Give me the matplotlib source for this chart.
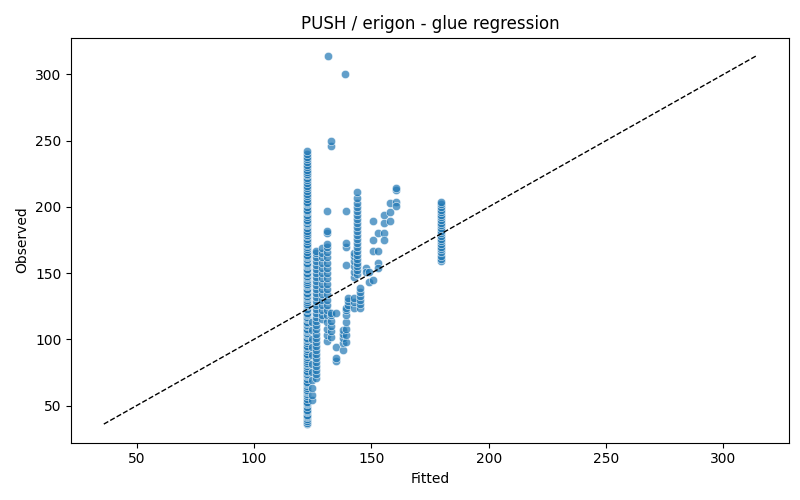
import matplotlib
matplotlib.use("Agg")
import matplotlib.pyplot as plt
import numpy as np

# columns of (fitted value, observed values)
fit_a = 122.6
obs_a = [36, 37, 38, 40, 41, 42, 43, 45, 46, 47, 49, 51, 52, 53, 55, 57, 59, 60, 61,
         62, 63, 65, 66, 67, 68, 70, 72, 73, 74, 75, 76, 78, 80, 81, 82, 84, 85, 87,
         88, 89, 91, 93, 94, 95, 97, 99, 100, 101, 103, 104, 105, 106, 107, 108, 110,
         111, 112, 113, 115, 116, 117, 118, 119, 120, 122, 123, 125, 126, 127, 128,
         130, 131, 132, 133, 134, 135, 137, 138, 140, 141, 142, 143, 145, 146, 147,
         148, 149, 150, 152, 153, 155, 156, 157, 158, 160, 161, 162, 163, 164, 166,
         168, 170, 171, 172, 174, 176, 178, 179, 180, 182, 184, 186, 187, 188, 189,
         190, 192, 194, 196, 197, 198, 200, 202, 203, 204, 206, 208, 210, 212, 214,
         216, 218, 220, 222, 224, 225, 226, 228, 230, 232, 234, 236, 238, 240, 242]

fit_b = 124.8
obs_b = [54, 58, 63, 69, 75, 81, 88, 94, 100, 107, 113]

fit_c = 126.4
obs_c = [71, 74, 77, 80, 83, 86, 89, 92, 95, 98, 101, 104, 108, 111, 114, 117, 120,
         123, 126, 129, 132, 135, 138, 141, 144, 147, 150, 153, 156, 159, 162, 165, 167]

fit_d = 128.8
obs_d = [115, 118, 122, 126, 130, 134, 138, 142, 146, 150, 154, 158, 162, 165, 169]

fit_e = 131.2
obs_e = [99, 103, 108, 113, 118, 122, 126, 130, 134, 138, 142, 146, 150, 154, 158,
         162, 166, 170, 172, 180, 182, 197]

fit_f = 132.8
obs_f = [102, 106, 110, 114, 118, 120, 246, 250]

fit_g = 135.0
obs_g = [84, 86, 94, 120]

fit_h = 137.8
obs_h = [92, 97, 101, 104, 107]

fit_i = 139.0
obs_i = [98, 103, 108, 113, 118, 122, 124, 156, 170, 173, 197]

fit_j = 140.2
obs_j = [126, 129, 131]

fit_k = 142.8
obs_k = [124, 128, 131, 147, 151, 155, 159, 163, 165]

fit_l = 143.7
obs_l = [149, 152, 155, 158, 161, 164, 167, 170, 173, 176, 179, 182, 185, 188, 191,
         194, 197, 200, 203, 207, 211]

fit_m = 145.2
obs_m = [124, 127, 130, 133, 136, 139]

fit_n = 179.7
obs_n = [159, 161, 163, 166, 168, 170, 172, 174, 176, 178, 180, 182, 184, 186, 188,
         190, 192, 194, 196, 198, 200, 202, 204]

# scattered points between 147 and 161, plus the two high outliers
fit_s = [131.5, 138.8, 147.7, 147.7, 149.0, 149.0, 150.6, 150.6, 150.6, 150.6,
         153.0, 153.0, 153.0, 153.0, 155.5, 155.5, 155.5, 155.5, 158.1, 158.1, 158.1,
         160.5, 160.5, 160.5, 160.5]
obs_s = [314, 300, 154, 151, 151, 143, 189, 175, 167, 145,
         180, 167, 158, 154, 194, 188, 180, 175, 203, 196, 189,
         213, 214, 204, 201]

columns = [(fit_a, obs_a), (fit_b, obs_b), (fit_c, obs_c), (fit_d, obs_d),
           (fit_e, obs_e), (fit_f, obs_f), (fit_g, obs_g), (fit_h, obs_h),
           (fit_i, obs_i), (fit_j, obs_j), (fit_k, obs_k), (fit_l, obs_l),
           (fit_m, obs_m), (fit_n, obs_n)]

fitted = list(fit_s)
observed = list(obs_s)
for f, obs in columns:
    fitted += [f] * len(obs)
    observed += obs
fitted = np.array(fitted)
observed = np.array(observed)

fig = plt.figure(figsize=(8, 5), dpi=100)
ax = fig.add_subplot(111)
ax.scatter(fitted, observed, s=36, color="#1f77b4", alpha=0.7,
           edgecolors="white", linewidths=0.5)

lo = min(fitted.min(), observed.min())
hi = max(fitted.max(), observed.max())
ax.plot([lo, hi], [lo, hi], "k--", lw=1)

ax.set_title("PUSH / erigon - glue regression")
ax.set_xlabel("Fitted")
ax.set_ylabel("Observed")
fig.subplots_adjust(left=0.089, right=0.986, top=0.925, bottom=0.115)
plt.savefig("out.png")
